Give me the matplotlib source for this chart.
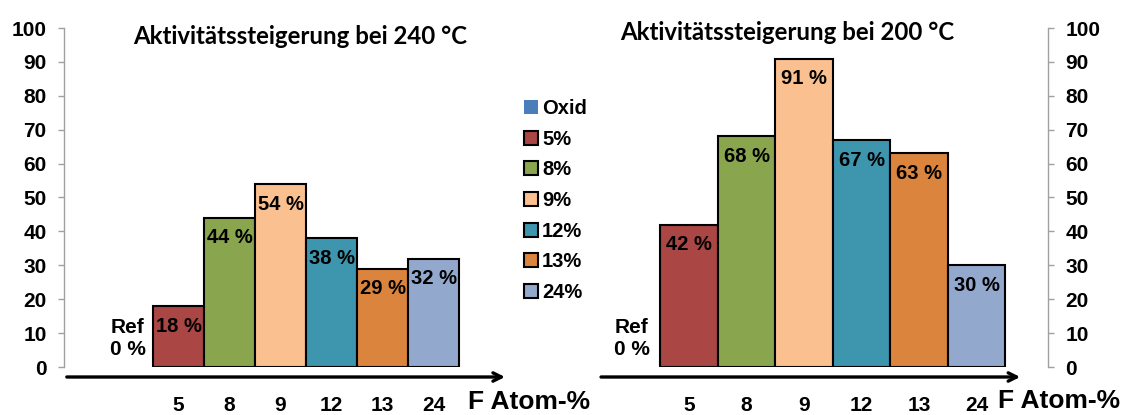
import matplotlib.pyplot as plt

# Fluorine content of the samples (Ref = oxide without fluorine)
slots = ["Ref", "5", "8", "9", "12", "13", "24"]
legend_labels = ["Oxid", "5%", "8%", "9%", "12%", "13%", "24%"]
tick_labels = ["", "5", "8", "9", "12", "13", "24"]

# activity increase in percent relative to the oxide
gain_240 = [0, 18, 44, 54, 38, 29, 32]
gain_200 = [0, 42, 68, 91, 67, 63, 30]

colors = ["#4A7EBB", "#AA4643", "#89A54E", "#FAC090", "#3D96AE", "#DB843D", "#92A8CD"]

num_font = "Liberation Sans"
title_font = "Lato"

fig = plt.figure(figsize=(11.46, 4.15), dpi=100)
ax1 = fig.add_axes([64 / 1146, 48 / 415, 441 / 1146, 339 / 415])
ax2 = fig.add_axes([600 / 1146, 48 / 415, 448 / 1146, 339 / 415])


def draw_panel(ax, values, xlim, arrow_x, yaxis_side):
    x = list(range(len(values)))
    bars = ax.bar(x, values, width=1.0, color=colors, edgecolor="black", linewidth=1.5)
    bars[0].set_edgecolor("none")
    for i, b in enumerate(bars):
        b.set_label(legend_labels[i])
    for xi, v in zip(x[1:], values[1:]):
        ax.annotate(f"{v} %", (xi, v), xytext=(0, -14.5), textcoords="offset points",
                    ha="center", va="center", fontsize=14.5, fontweight="bold",
                    family=num_font)
    ax.text(0, 8.4, "Ref\n0 %", ha="center", va="center", fontsize=15,
            fontweight="bold", family=num_font, linespacing=1.15)

    ax.set_xlim(*xlim)
    ax.set_ylim(0, 100)
    if yaxis_side == "right":
        ax.yaxis.tick_right()
    ax.set_yticks(range(0, 101, 10))
    ax.set_xticks(x)
    ax.set_xticklabels(tick_labels)
    ax.tick_params(axis="x", length=0, pad=21)
    ax.tick_params(axis="y", length=4, width=1, color="#A0A0A0", pad=8.5)
    ax.tick_params(labelsize=15)
    labels = ax.get_xticklabels() + ax.get_yticklabels(which="both")
    labels += [t.label2 for t in ax.yaxis.get_major_ticks()]
    for lab in labels:
        lab.set_fontweight("bold")
        lab.set_family(num_font)
    for side in ["top", "bottom", "left", "right"]:
        ax.spines[side].set_visible(False)
    ax.spines[yaxis_side].set_visible(True)
    ax.spines[yaxis_side].set_color("#A0A0A0")
    ax.spines[yaxis_side].set_linewidth(1)

    # x axis drawn as a thick arrow below the baseline
    ax.annotate("", xy=(arrow_x[1], -2.95), xytext=(arrow_x[0], -2.95),
                arrowprops=dict(arrowstyle="->,head_length=0.6,head_width=0.3",
                                lw=2.4, color="black", shrinkA=0, shrinkB=0),
                annotation_clip=False)
    return bars


bars1 = draw_panel(ax1, gain_240, (-1.245, 7.40), (-1.19, 7.40), "left")
bars2 = draw_panel(ax2, gain_200, (-0.548, 7.243), (-0.53, 6.76), "right")

fig.text(300 / 1146, 1 - 37 / 415, "Aktivitätssteigerung bei 240 °C", ha="center",
         va="center", fontsize=17.3, fontweight="bold", family=title_font)
fig.text(787 / 1146, 1 - 33 / 415, "Aktivitätssteigerung bei 200 °C", ha="center",
         va="center", fontsize=17.3, fontweight="bold", family=title_font)

fig.text(468 / 1146, 1 - 402 / 415, "F Atom-%", ha="left", va="center", fontsize=19,
         fontweight="bold", family=num_font)
fig.text(998 / 1146, 1 - 401 / 415, "F Atom-%", ha="left", va="center", fontsize=19,
         fontweight="bold", family=num_font)

# legend squares for Oxid and the fluorinated samples
leg = fig.legend(handles=list(bars1), loc="upper left",
                 bbox_to_anchor=(516 / 1146, 1 - 91 / 415), frameon=False,
                 handlelength=0.7, handleheight=0.7, handletextpad=0.2,
                 labelspacing=0.58, borderaxespad=0,
                 prop={"family": num_font, "weight": "bold", "size": 14.5})

fig.savefig("out.png", dpi=100)
